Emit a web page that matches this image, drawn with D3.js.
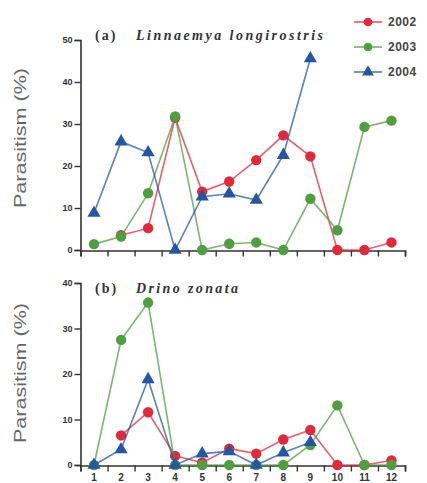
<!DOCTYPE html>
<html>
<head>
<meta charset="utf-8">
<script src="https://cdn.jsdelivr.net/npm/d3@7/dist/d3.min.js"></script>
<style>
  html, body { margin: 0; padding: 0; background: #fff; }
  svg { display: block; }
</style>
</head>
<body>
<div id="chart"></div>
<script>
// months 1..12
const months = d3.range(1, 13)
const years = ['2002', '2003', '2004']

// (a) Linnaemya longirostris
const aRed = [null, 3.5, 5.2, 31.5, 13.9, 16.3, 21.4, 27.3, 22.3, 0, 0, 1.8]
const aGreen = [1.4, 3.2, 13.5, 31.8, 0, 1.5, 1.8, 0, 12.2, 4.7, 29.3, 30.8]
const aBlue = [8.8, 25.8, 23.2, 0, 12.7, 13.4, 11.9, 22.6, 45.6, null, null, null]

// (b) Drino zonata
const bRed = [null, 6.5, 11.6, 2.0, 0.5, 3.6, 2.5, 5.6, 7.7, 0, 0, 1.0]
const bGreen = [0, 27.5, 35.7, 0, 0, 0, 0, 0, 4.4, 13.1, 0, 0]
const bBlue = [0, 3.4, 18.8, 0, 2.5, 3.0, 0, 2.7, 5.0, null, null, null]

const aTicks = [0, 10, 20, 30, 40, 50]
const bTicks = [0, 10, 20, 30, 40]

const COLORS = { '2002': '#df2a3e', '2003': '#4f9e3f', '2004': '#2456a3' }
const SYMBOLS = { '2002': d3.symbolCircle, '2003': d3.symbolCircle, '2004': d3.symbolTriangle }

const W = 427, H = 483

const svg = d3.select('#chart').append('svg')
  .attr('width', W).attr('height', H)
  .style('font-family', 'Arial, "Liberation Sans", sans-serif')

const x = d3.scaleLinear().domain([0.5, 12.5]).range([80.5, 405])

function panel(opts) {
  const { series, yMax, ticks, y0, y1, tag, species, titleY, labelY, showX } = opts
  const y = d3.scaleLinear().domain([0, yMax]).range([y0, y1])
  const g = svg.append('g')

  // y axis
  const ya = g.append('g').attr('transform', 'translate(80.5,0)')
    .call(d3.axisLeft(y).tickValues(ticks).tickSize(6).tickPadding(2))
  ya.select('.domain').attr('stroke', '#333').attr('stroke-width', 1.6)
  ya.selectAll('.tick line').attr('stroke', '#333').attr('stroke-width', 1.4)
  ya.selectAll('.tick text').attr('fill', '#333').attr('font-size', 9).attr('font-weight', 'bold')

  // x axis, ticks sit between the months
  const xa = g.append('g').attr('transform', `translate(0,${y0 + 0.5})`)
    .call(d3.axisBottom(x).tickValues(d3.range(0.5, 13, 1)).tickSize(6).tickFormat(''))
  xa.select('.domain').attr('stroke', '#333').attr('stroke-width', 1.6)
  xa.selectAll('.tick line').attr('stroke', '#333').attr('stroke-width', 1.4)

  if (showX) {
    g.append('g').selectAll('text')
      .data(months)
      .enter().append('text')
      .attr('x', d => x(d))
      .attr('y', y0 + 16)
      .attr('text-anchor', 'middle')
      .attr('font-size', 10)
      .attr('font-weight', 'bold')
      .attr('fill', '#333')
      .text(d => d)
  }

  g.append('text')
    .attr('transform', `translate(26,${labelY}) rotate(-90)`)
    .attr('text-anchor', 'middle')
    .attr('font-size', 16)
    .attr('fill', '#666')
    .attr('textLength', 140)
    .attr('lengthAdjust', 'spacingAndGlyphs')
    .text('Parasitism (%)')

  const t = g.append('text')
    .attr('y', titleY)
    .attr('font-family', '"Liberation Serif", "DejaVu Serif", serif')
    .attr('font-weight', 'bold')
    .attr('font-size', 14)
    .attr('fill', '#333')
  t.append('tspan').attr('x', 95).attr('letter-spacing', 2).text(tag)
  t.append('tspan').attr('x', 136).attr('font-style', 'italic')
    .attr('textLength', species.length * 8.5).attr('lengthAdjust', 'spacing')
    .text(species)

  const line = d3.line()
    .defined(d => d.v !== null)
    .x(d => x(d.m)).y(d => y(d.v))

  series.forEach((vals, i) => {
    const yr = years[i]
    const pts = vals.map((v, j) => ({ m: months[j], v }))
    g.append('path')
      .datum(pts)
      .attr('fill', 'none')
      .attr('stroke', COLORS[yr])
      .attr('stroke-opacity', 0.75)
      .attr('stroke-width', 1.6)
      .attr('d', line)
    g.append('g').selectAll('path')
      .data(pts.filter(d => d.v !== null))
      .enter().append('path')
      .attr('transform', d => `translate(${x(d.m)},${y(d.v)})`)
      .attr('d', d3.symbol().type(SYMBOLS[yr]).size(yr === '2004' ? 75 : 85))
      .attr('fill', COLORS[yr])
  })
}

panel({ series: [aRed, aGreen, aBlue], yMax: 50, ticks: aTicks, y0: 250, y1: 40,
  tag: '(a)', species: 'Linnaemya longirostris', titleY: 40, labelY: 138, showX: false })
panel({ series: [bRed, bGreen, bBlue], yMax: 40, ticks: bTicks, y0: 465, y1: 283,
  tag: '(b)', species: 'Drino zonata', titleY: 293, labelY: 373, showX: true })

// legend
const leg = svg.append('g')
years.forEach((yr, i) => {
  const ly = 22 + i * 25
  leg.append('line')
    .attr('x1', 354).attr('x2', 382).attr('y1', ly).attr('y2', ly)
    .attr('stroke', COLORS[yr]).attr('stroke-width', 1.6).attr('stroke-opacity', 0.8)
  leg.append('path')
    .attr('transform', `translate(368,${ly})`)
    .attr('d', d3.symbol().type(SYMBOLS[yr]).size(60))
    .attr('fill', COLORS[yr])
  leg.append('text')
    .attr('x', 388).attr('y', ly + 4)
    .attr('font-size', 12).attr('font-weight', 'bold').attr('fill', '#444')
    .attr('letter-spacing', 0.5)
    .text(yr)
})
</script>
</body>
</html>
